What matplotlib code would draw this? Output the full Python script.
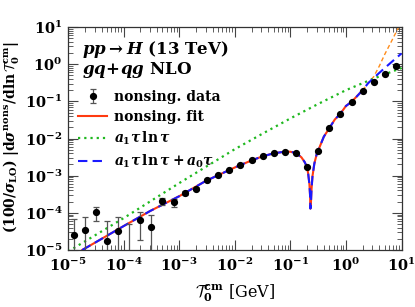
import matplotlib
matplotlib.use("Agg")
import matplotlib.pyplot as plt
from matplotlib.ticker import LogLocator, NullFormatter, FixedLocator

plt.rcParams['font.family'] = 'DejaVu Serif'
plt.rcParams['font.weight'] = 'bold'
plt.rcParams['mathtext.fontset'] = 'custom'
plt.rcParams['mathtext.rm'] = 'DejaVu Serif:bold'
plt.rcParams['mathtext.it'] = 'DejaVu Serif:italic:bold'
plt.rcParams['mathtext.bf'] = 'DejaVu Serif:bold'
plt.rcParams['mathtext.cal'] = 'cmsy10'

# ---- data ----
T_data = [1.26e-5, 2.0e-5, 3.16e-5, 5.0e-5, 7.94e-5, 1.26e-4, 2.0e-4, 3.16e-4,
          5.0e-4, 7.94e-4, 1.26e-3, 2.0e-3, 3.16e-3, 5.0e-3, 7.94e-3, 1.26e-2,
          2.0e-2, 3.16e-2, 5.0e-2, 7.94e-2, 0.126, 0.2, 0.316, 0.5, 0.794,
          1.26, 2.0, 3.16, 5.0, 7.94]
y_data = [2.6e-5, 3.45e-5, 1.03e-4, 1.71e-5, 3.24e-5, 5e-6, 6.3e-5, 4.25e-5,
          2.04e-4, 1.92e-4, 3.49e-4, 4.47e-4, 7.6e-4, 1.06e-3, 1.39e-3, 1.98e-3,
          2.59e-3, 3.31e-3, 3.99e-3, 4.43e-3, 4.07e-3, 1.75e-3, 4.71e-3, 1.88e-2,
          4.56e-2, 9.6e-2, 0.19, 0.324, 0.543, 0.875]
y_err = [4.4e-5] * 30

T_fit = [1.8e-5, 3e-5, 1e-4, 3e-4, 1e-3, 3e-3, 1e-2, 2e-2, 3.16e-2, 5e-2, 8e-2,
         0.1, 0.126, 0.158, 0.18, 0.2, 0.21, 0.22, 0.226, 0.2295, 0.233, 0.236,
         0.24, 0.25, 0.27, 0.3, 0.316, 0.4, 0.5, 0.63, 0.79, 1.0, 1.26, 1.6, 2.0]
y_fit = [1.0e-5, 1.55e-5, 4.4e-5, 1.12e-4, 2.8e-4, 7.2e-4, 1.66e-3, 2.57e-3,
         3.31e-3, 3.99e-3, 4.43e-3, 4.4e-3, 4.07e-3, 3.12e-3, 2.35e-3, 1.7e-3,
         1.08e-3, 6.0e-4, 3.05e-4, 1.3e-4, 1.5e-4, 2.3e-4, 4.2e-4, 9.6e-4,
         2.11e-3, 3.97e-3, 4.71e-3, 1.12e-2, 1.88e-2, 3.24e-2, 4.6e-2, 7.5e-2,
         9.7e-2, 0.14, 0.20]

T_ext = [2.0, 2.5, 3.16, 4.0, 5.0, 6.3, 8.0, 10.0]
y_ext = [0.20, 0.31, 0.46, 0.9, 1.85, 3.6, 7.3, 13.5]

T_a0 = T_fit + [2.5, 3.16, 4.0, 5.0, 6.3, 8.0, 10.0]
y_a0 = y_fit + [0.306, 0.425, 0.587, 0.79, 1.07, 1.46, 1.94]

T_a1 = [1e-5, 1e-4, 1e-3, 1e-2, 3.16e-2, 0.1, 0.316, 1.0, 3.16, 10.0]
y_a1 = [9.1e-6, 7.2e-5, 6.3e-4, 5.16e-3, 1.35e-2, 3.47e-2, 8.5e-2, 0.20, 0.41, 0.79]

decades = [1e-5, 1e-4, 1e-3, 1e-2, 1e-1, 1e0, 1e1]

fig = plt.figure(figsize=(4.15, 3.07), dpi=100)
ax = fig.add_axes([0.164, 0.1857, 0.8035, 0.7263])

eb = ax.errorbar(T_data, y_data, yerr=y_err, fmt='o', color='black', ms=4.2,
                 ecolor='#555555', elinewidth=0.9, capsize=2.2, capthick=0.9,
                 zorder=5, label='nonsing. data')
l_fit, = ax.plot(T_fit, y_fit, '-', color='#ff3a10', lw=1.5, zorder=2,
                 label='nonsing. fit')
ax.plot(T_ext, y_ext, '--', color='#ff8c1a', lw=1.0, dashes=(3, 2), zorder=2)
l_a1, = ax.plot(T_a1, y_a1, color='#1fb81f', lw=1.6, dashes=(1, 1.8),
                zorder=3, label=r'$a_1\tau\,\ln\tau$')
l_a0, = ax.plot(T_a0, y_a0, color='#1a1aff', lw=1.5, dashes=(4.5, 2.5),
                zorder=3, label=r'$a_1\tau\,\ln\tau+a_0\tau$')

ax.set_xscale('log')
ax.set_yscale('log')
ax.set_xlim(1e-5, 10)
ax.set_ylim(1e-5, 10)

for axis in (ax.xaxis, ax.yaxis):
    axis.set_major_locator(FixedLocator(decades))
    axis.set_minor_locator(LogLocator(base=10, subs=range(2, 10), numticks=20))
    axis.set_minor_formatter(NullFormatter())
ax.tick_params(which='both', direction='in', top=True, right=True,
               color='#444444', labelsize=10.5)
ax.tick_params(axis='x', which='major', pad=5)
ax.tick_params(axis='y', which='major', pad=4)
ax.tick_params(which='major', length=7, width=0.8)
ax.tick_params(which='minor', length=3.5, width=0.6)
for s in ax.spines.values():
    s.set_color('#333333')
    s.set_linewidth(0.9)

ax.set_xlabel(r'$\mathcal{T}_0^{\rm cm}$ [GeV]', fontsize=11.5, labelpad=6)
ax.set_ylabel(r'$(100/\sigma_{\rm LO})\;|{\rm d}\sigma^{\rm nons}/{\rm d}\ln\mathcal{T}_0^{\rm cm}|$',
              fontsize=10)
ax.yaxis.set_label_coords(-0.14, 0.505)

ax.text(0.042, 0.897, r'$pp\rightarrow H$ (13 TeV)', transform=ax.transAxes,
        fontsize=12, va='center', ha='left')
ax.text(0.042, 0.805, r'$gq\!+\!qg$ NLO', transform=ax.transAxes,
        fontsize=12, va='center', ha='left')

leg = ax.legend(handles=[eb, l_fit, l_a1, l_a0], loc='upper left',
                bbox_to_anchor=(0.005, 0.755), frameon=False, fontsize=10,
                handlelength=2.1, handletextpad=0.5, labelspacing=0.42,
                borderaxespad=0.2)

fig.savefig('out.png', dpi=100)
